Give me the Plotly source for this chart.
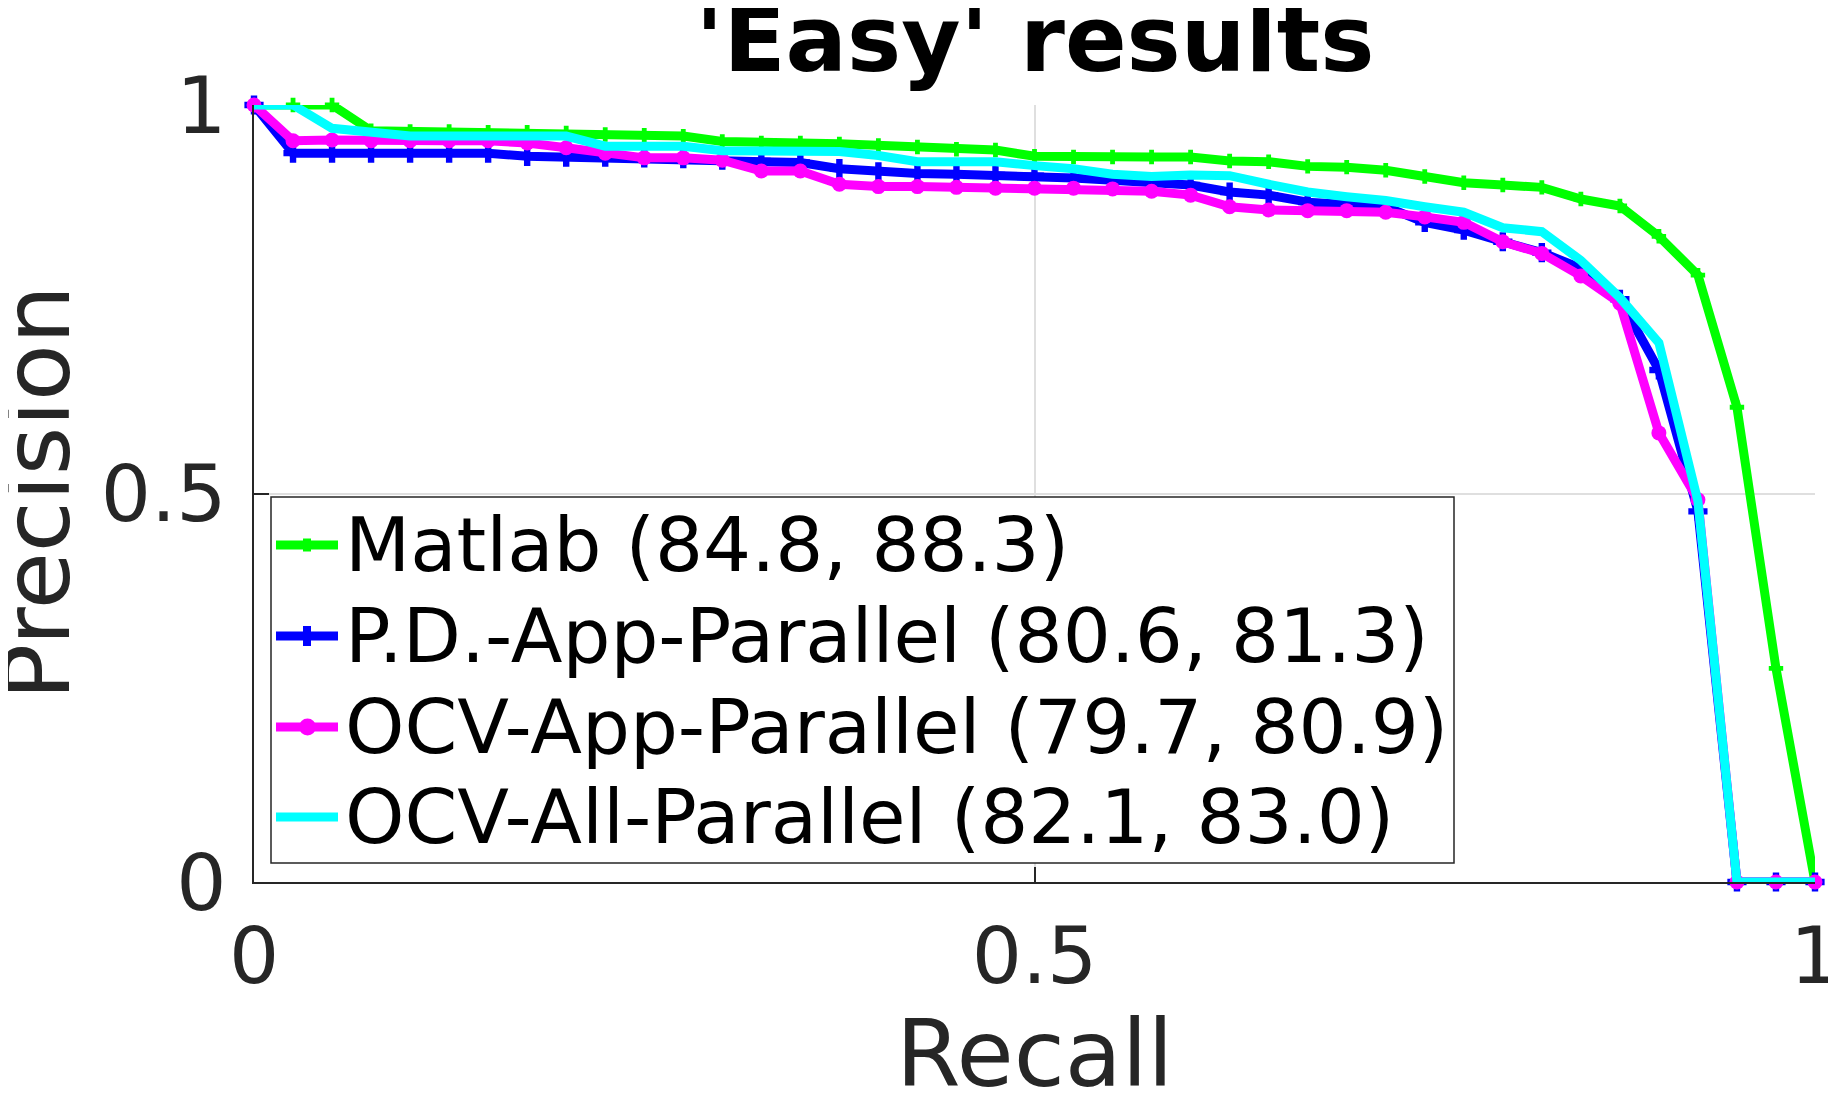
import plotly.graph_objects as go

# recall thresholds (x) shared by all curves
recall = [0.0, 0.025, 0.05, 0.075, 0.1, 0.125, 0.15, 0.175, 0.2, 0.225,
          0.25, 0.275, 0.3, 0.325, 0.35, 0.375, 0.4, 0.425, 0.45, 0.475,
          0.5, 0.525, 0.55, 0.575, 0.6, 0.625, 0.65, 0.675, 0.7, 0.725,
          0.75, 0.775, 0.8, 0.825, 0.85, 0.875, 0.9, 0.925, 0.95, 0.975, 1.0]

prec_matlab = [1.0, 1.0, 1.0, 0.967, 0.966, 0.966, 0.965, 0.965, 0.964, 0.962,
               0.961, 0.960, 0.953, 0.951, 0.951, 0.950, 0.948, 0.946, 0.943, 0.942,
               0.934, 0.933, 0.933, 0.933, 0.933, 0.928, 0.927, 0.921, 0.920, 0.916,
               0.908, 0.900, 0.897, 0.894, 0.879, 0.870, 0.831, 0.781, 0.611, 0.275, 0.0]

prec_pd_app = [1.0, 0.938, 0.938, 0.938, 0.938, 0.938, 0.938, 0.934, 0.933, 0.933,
               0.932, 0.931, 0.929, 0.928, 0.926, 0.918, 0.914, 0.912, 0.911, 0.910,
               0.909, 0.906, 0.903, 0.900, 0.897, 0.888, 0.884, 0.875, 0.872, 0.869,
               0.849, 0.839, 0.824, 0.810, 0.790, 0.750, 0.659, 0.477, 0.0, 0.0, 0.0]

prec_ocv_app = [1.0, 0.954, 0.955, 0.954, 0.954, 0.954, 0.954, 0.951, 0.945, 0.938,
                0.932, 0.932, 0.929, 0.915, 0.915, 0.898, 0.895, 0.895, 0.894, 0.893,
                0.893, 0.893, 0.892, 0.889, 0.884, 0.869, 0.865, 0.864, 0.864, 0.862,
                0.856, 0.849, 0.824, 0.809, 0.780, 0.745, 0.578, 0.492, 0.0, 0.0, 0.0]

prec_ocv_all = [1.0, 1.0, 0.970, 0.964, 0.960, 0.960, 0.960, 0.960, 0.960, 0.947,
                0.947, 0.947, 0.941, 0.940, 0.940, 0.940, 0.935, 0.927, 0.927, 0.927,
                0.922, 0.918, 0.911, 0.908, 0.910, 0.909, 0.898, 0.888, 0.882, 0.877,
                0.869, 0.862, 0.842, 0.837, 0.800, 0.752, 0.694, 0.490, 0.0, 0.0, 0.0]

names = ["Matlab (84.8, 88.3)", "P.D.-App-Parallel (80.6, 81.3)",
         "OCV-App-Parallel (79.7, 80.9)", "OCV-All-Parallel (82.1, 83.0)"]
colors = ["#00ff00", "#0000ff", "#ff00ff", "#00ffff"]

# the page body has an 8px margin, so the figure is made smaller by that much
OFF = 8
W, H = 1836 - OFF, 1093 - OFF
L, R, T, B = 254 - OFF, 21, 105 - OFF, 211
PW, PH = W - L - R, H - T - B
FONT = "DejaVu Sans"
AXC = "#262626"


# screen pixel -> paper coords
def px(p):
    return (p - OFF - L) / PW


def py(p):
    return (T + PH - (p - OFF)) / PH


fig = go.Figure()

series = [prec_matlab, prec_pd_app, prec_ocv_app, prec_ocv_all]
markers = [dict(symbol="cross", size=12), dict(symbol="cross", size=16),
           dict(symbol="circle", size=15), None]
for ys, name, col, mk in zip(series, names, colors, markers):
    fig.add_trace(go.Scatter(
        x=recall, y=ys, name=name,
        mode="lines+markers" if mk else "lines",
        line=dict(color=col, width=9),
        marker=dict(color=col, line=dict(width=0), **mk) if mk else None,
        cliponaxis=False, showlegend=False))

# hand-made legend box (MATLAB style)
shapes = [dict(type="rect", xref="paper", yref="paper",
               x0=px(271), x1=px(1454), y0=py(863), y1=py(497),
               line=dict(color=AXC, width=1.5), fillcolor="white", layer="above")]
annotations = []
rows = [545, 636, 727, 817]
for i, (name, col, yy) in enumerate(zip(names, colors, rows)):
    shapes.append(dict(type="line", xref="paper", yref="paper",
                       x0=px(276), x1=px(338), y0=py(yy), y1=py(yy),
                       line=dict(color=col, width=9), layer="above"))
    if i == 0:
        shapes.append(dict(type="rect", xref="paper", yref="paper",
                           x0=px(303), x1=px(311), y0=py(yy + 6.5), y1=py(yy - 6.5),
                           line=dict(width=0), fillcolor=col, layer="above"))
    elif i == 1:
        shapes.append(dict(type="rect", xref="paper", yref="paper",
                           x0=px(303), x1=px(311), y0=py(yy + 10), y1=py(yy - 10),
                           line=dict(width=0), fillcolor=col, layer="above"))
    elif i == 2:
        shapes.append(dict(type="circle", xref="paper", yref="paper",
                           x0=px(299), x1=px(316), y0=py(yy + 8.5), y1=py(yy - 8.5),
                           line=dict(width=0), fillcolor=col, layer="above"))
    annotations.append(dict(text=name, xref="paper", yref="paper",
                            x=px(343), y=py(yy), xanchor="left", yanchor="middle",
                            showarrow=False, font=dict(family=FONT, size=75.6, color="black")))

# axis titles
annotations.append(dict(text="Precision", xref="paper", yref="paper", textangle=-90,
                        x=px(37), y=py(492), xanchor="center", yanchor="middle",
                        showarrow=False, font=dict(family=FONT, size=93, color=AXC)))
annotations.append(dict(text="Recall", xref="paper", yref="paper",
                        x=px(1034), y=py(1054), xanchor="center", yanchor="middle",
                        showarrow=False, font=dict(family=FONT, size=93, color=AXC)))

axis_common = dict(
    range=[0, 1], tickvals=[0, 0.5, 1], ticktext=["0", "0.5", "1"],
    showline=True, linecolor=AXC, linewidth=1.5,
    ticks="inside", ticklen=15, tickwidth=1.5, tickcolor=AXC,
    showgrid=True, gridcolor="#dfdfdf", gridwidth=1.5, zeroline=False,
    tickfont=dict(family=FONT, size=79, color=AXC), automargin=False,
    ticklabeloverflow="allow",
)

fig.update_layout(
    width=W, height=H,
    margin=dict(l=L, r=R, t=T, b=B),
    paper_bgcolor="white", plot_bgcolor="white",
    title=dict(text="<b>'Easy' results</b>", x=(1035 - OFF) / W, xanchor="center",
               y=1 - (39 - OFF) / H, yanchor="middle", yref="container",
               font=dict(family=FONT, size=91, color="black")),
    xaxis=dict(axis_common, ticklabelstandoff=4),
    yaxis=dict(axis_common, ticklabelstandoff=10),
    shapes=shapes, annotations=annotations,
)

fig.write_html("out.html")
